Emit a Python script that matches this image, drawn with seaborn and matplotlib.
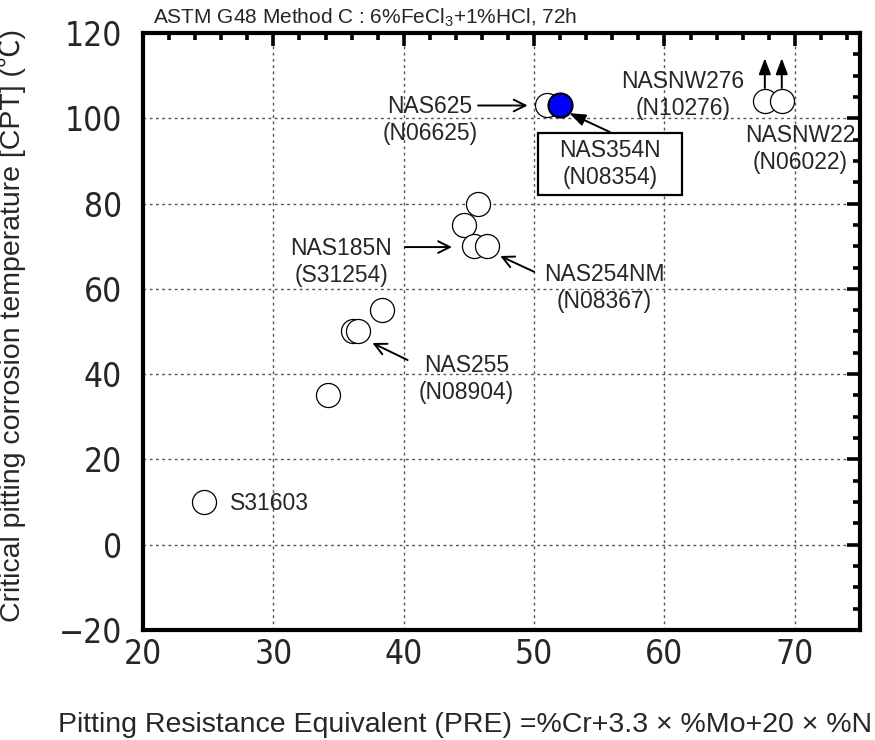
import matplotlib
matplotlib.use("Agg")
import matplotlib.pyplot as plt
from matplotlib import font_manager
from matplotlib.font_manager import FontProperties
from matplotlib.ticker import MultipleLocator
from matplotlib.patches import Rectangle
import seaborn as sns
import pandas as pd

# ---------------- data ----------------
pre_open = [24.7, 34.2, 36.1, 36.5, 38.3, 44.6, 45.7, 45.4, 46.4, 51.0, 67.7, 69.0]
cpt_open = [10, 35, 50, 50, 55, 75, 80, 70, 70, 103, 104, 104]
pre_blue = [52.0]
cpt_blue = [103]
x_ticks = [20, 30, 40, 50, 60, 70]
y_ticks = [-20, 0, 20, 40, 60, 80, 100, 120]
y_tick_labels = ["\u221220", "0", "20", "40", "60", "80", "100", "120"]

title = "ASTM G48 Method C : 6%FeCl$_3$+1%HCl, 72h"
xlabel = "Pitting Resistance Equivalent (PRE) =%Cr+3.3 \u00d7 %Mo+20 \u00d7 %N"
ylabel = "Critical pitting corrosion temperature [CPT] (\u2103)"

sns.set_theme(style="white")
main_fonts = ["Liberation Sans", "DejaVu Sans"]
cjk_fonts = ["Liberation Sans", "Noto Sans CJK JP", "DejaVu Sans"]
plt.rcParams["font.family"] = main_fonts
plt.rcParams["mathtext.fontset"] = "custom"
plt.rcParams["mathtext.rm"] = "Liberation Sans"


def find_condensed():
    best = None
    best_rank = 99
    for f in font_manager.fontManager.ttflist:
        if f.style != "normal" or f.weight not in (400, "normal", "regular", "book"):
            continue
        nm = f.name
        st = f.stretch
        is_cond = ("Narrow" in nm or "Condensed" in nm or
                   (isinstance(st, str) and "condensed" in st) or
                   (isinstance(st, (int, float)) and st < 500))
        if not is_cond:
            continue
        if "Liberation" in nm:
            rank = 0
        elif "Noto Sans" in nm and "CJK" not in nm:
            rank = 2
        elif "DejaVu" in nm:
            rank = 3
        else:
            rank = 4
        if isinstance(st, str) and st in ("extra-condensed", "ultra-condensed"):
            rank += 5
        if rank < best_rank:
            best, best_rank = f, rank
    return best


cf = find_condensed()
if cf is not None:
    tick_fp = FontProperties(fname=cf.fname, size=24)
else:
    tick_fp = FontProperties(family="Liberation Sans", size=22)

fig = plt.figure(figsize=(8.75, 7.4), dpi=100)
ax = fig.add_axes([143 / 875, 1 - 630 / 740, 717 / 875, 597 / 740])

df_open = pd.DataFrame({"pre": pre_open, "cpt": cpt_open})
df_blue = pd.DataFrame({"pre": pre_blue, "cpt": cpt_blue})
sns.scatterplot(data=df_open, x="pre", y="cpt", ax=ax, s=300, color="white",
                edgecolor="black", linewidth=0.9, zorder=5)
sns.scatterplot(data=df_blue, x="pre", y="cpt", ax=ax, s=300, color="#0000ff",
                edgecolor="black", linewidth=1.5, zorder=6)

ax.set_xlim(20, 75)
ax.set_ylim(-20, 120)
ax.set_xticks(x_ticks)
ax.set_yticks(y_ticks)
ax.set_yticklabels(y_tick_labels)
ax.xaxis.set_minor_locator(MultipleLocator(2))
ax.yaxis.set_minor_locator(MultipleLocator(5))
ax.tick_params(which="both", direction="in", top=True, right=True, width=2.6, color="black")
ax.tick_params(which="major", length=9.5)
ax.tick_params(which="minor", length=5)
ax.tick_params(axis="y", which="major", pad=15)
ax.tick_params(axis="x", which="major", pad=6)
for lab in ax.get_xticklabels() + ax.get_yticklabels():
    lab.set_fontproperties(tick_fp)
for sp in ax.spines.values():
    sp.set_linewidth(3.0)
    sp.set_color("black")
ax.grid(True, which="major", linestyle=(0, (2, 2.5)), color="#555555", linewidth=1.0)

ax.set_xlabel(xlabel, fontsize=20.5, family=cjk_fonts)
ax.set_ylabel(ylabel, fontsize=20.5, family=cjk_fonts)
ax.xaxis.label.set_va("baseline")
ax.xaxis.set_label_coords((465 - 143) / 717, (630 - 732) / 597)
ax.yaxis.set_label_coords((26 - 143) / 717, (630 - 326) / 597)

fig.text(153 / 875, 1 - 17.5 / 740, title, fontsize=15, ha="left", va="center")

lab_fs = 16.5
open_arrow = dict(arrowstyle="->,head_length=0.7,head_width=0.35", color="black", lw=1.4,
                  shrinkA=0, shrinkB=0)
fill_arrow = dict(arrowstyle="-|>,head_length=0.8,head_width=0.3", color="black", lw=1.4,
                  shrinkA=0, shrinkB=0)


def label(x, y, s, ha="center"):
    ax.text(x, y, s, fontsize=lab_fs, ha=ha, va="center", linespacing=1.2, zorder=8)


def arrow(xy, xytext, props):
    ax.annotate("", xy=xy, xytext=xytext, arrowprops=props, zorder=7)


label(42.0, 99.6, "NAS625\n(N06625)")
arrow((49.5, 103), (45.7, 103), open_arrow)

ax.add_patch(Rectangle((50.27, 82.0), 11.11, 14.56, facecolor="white", edgecolor="black",
                       linewidth=1.6, zorder=7))
label(55.8, 89.3, "NAS354N\n(N08354)")
arrow((52.7, 101.2), (55.8, 96.8), fill_arrow)

label(61.4, 105.5, "NASNW276\n(N10276)")
label(70.4, 92.8, "NASNW22\n(N06022)")
arrow((67.7, 114.1), (67.7, 107.1), fill_arrow)
arrow((69.0, 114.1), (69.0, 107.1), fill_arrow)

label(35.2, 66.3, "NAS185N\n(S31254)")
arrow((43.7, 69.8), (40.1, 69.8), open_arrow)

label(55.4, 60.2, "NAS254NM\n(N08367)")
arrow((47.4, 67.7), (50.0, 64.0), open_arrow)

label(44.8, 38.9, "NAS255\n(N08904)")
arrow((37.6, 47.3), (40.3, 43.3), open_arrow)

label(26.67, 9.55, "S31603", ha="left")

fig.savefig("out.png", dpi=100)
